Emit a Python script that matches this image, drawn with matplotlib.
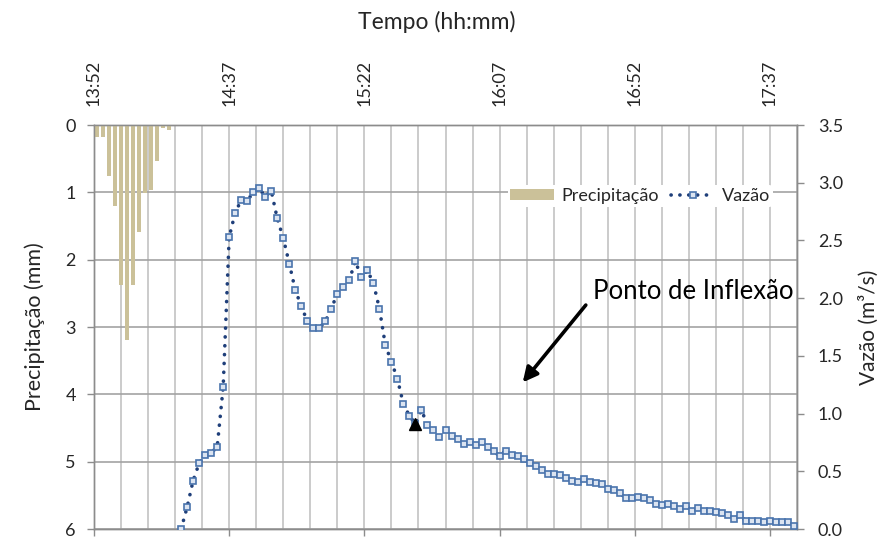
import matplotlib
matplotlib.use("Agg")
import matplotlib.pyplot as plt
from matplotlib.ticker import MultipleLocator, FixedLocator
import numpy as np

plt.rcParams['font.family'] = ['Lato', 'DejaVu Sans']

# ---------------- data ----------------
# time in minutes after 13:52
precip_t = [1, 3, 5, 7, 9, 11, 13, 15, 17, 19, 21, 23, 25]
precip_mm = [0.18, 0.18, 0.75, 1.21, 2.38, 3.20, 2.38, 1.59, 1.01, 0.97, 0.53, 0.05, 0.07]

flow_t = list(range(29, 235, 2))
flow_q = [0.00, 0.19, 0.42, 0.57, 0.64, 0.66, 0.71, 1.23, 2.53, 2.74,
          2.85, 2.84, 2.92, 2.95, 2.88, 2.93, 2.69, 2.52, 2.30, 2.07,
          1.93, 1.80, 1.74, 1.74, 1.80, 1.91, 2.04, 2.10, 2.16, 2.32,
          2.18, 2.24, 2.13, 1.91, 1.59, 1.45, 1.30, 1.08, 0.98, 0.91,
          1.03, 0.90, 0.86, 0.80, 0.86, 0.81, 0.78, 0.74, 0.75, 0.73,
          0.75, 0.71, 0.68, 0.63, 0.68, 0.64, 0.63, 0.61, 0.57, 0.55,
          0.51, 0.48, 0.48, 0.47, 0.44, 0.42, 0.41, 0.43, 0.41, 0.40,
          0.39, 0.35, 0.34, 0.31, 0.27, 0.27, 0.28, 0.27, 0.25, 0.22,
          0.21, 0.22, 0.20, 0.17, 0.20, 0.16, 0.18, 0.16, 0.16, 0.15,
          0.14, 0.12, 0.09, 0.12, 0.07, 0.07, 0.07, 0.06, 0.07, 0.06,
          0.06, 0.06, 0.03]
inflection_t = 107

tick_minutes = [0, 45, 90, 135, 180, 225]
tick_labels = ['13:52', '14:37', '15:22', '16:07', '16:52', '17:37']

# ---------------- figure ----------------
fig = plt.figure(figsize=(8.8, 5.38), dpi=100)
ax = fig.add_axes([94/880, 1-529/538, (797-94)/880, (529-125)/538])
ax2 = ax.twinx()

hgrid = '#a3a3a3'
vgrid = '#cbcbcb'
spine_c = '#8c8c8c'
txt_c = '#262626'

# bars (precipitation) on left axis, inverted
ax.bar(precip_t, precip_mm, width=1.35, color='#cbc199', zorder=3,
       label='Precipitação')
ax.set_ylim(6, 0)
ax.set_xlim(0, 234)
ax.yaxis.set_major_locator(MultipleLocator(1))
ax.xaxis.set_major_locator(FixedLocator(tick_minutes))
ax.xaxis.set_minor_locator(MultipleLocator(9))
ax.set_xticklabels(tick_labels, rotation=90)

ax.grid(axis='y', which='major', color=hgrid, lw=1.2, zorder=0)
ax.grid(axis='x', which='minor', color=vgrid, lw=1.4, zorder=0)
ax.grid(axis='x', which='major', color=vgrid, lw=1.4, zorder=0)
ax.set_axisbelow(True)

ax.tick_params(axis='x', which='major', bottom=True, top=False,
               labelbottom=False, labeltop=True, direction='out',
               length=5, width=1, color=spine_c, labelsize=13, pad=9,
               labelcolor=txt_c)
ax.tick_params(axis='x', which='minor', bottom=False, top=False)
ax.tick_params(axis='y', direction='out', length=5, width=1, color=spine_c,
               labelsize=13, pad=8, labelcolor=txt_c)
for s in ax.spines.values():
    s.set_color(spine_c)
    s.set_linewidth(1.0)

# flow on right axis
ax2.plot(flow_t, flow_q, color='#1f3f7a', lw=2.6, linestyle=(0, (0.05, 2.4)),
         dash_capstyle='round', marker='s', markersize=4.4,
         markerfacecolor='#dbe4f1', markeredgecolor='#4a74ad',
         markeredgewidth=1.2, zorder=4, label='Vazão')
q_inf = flow_q[flow_t.index(inflection_t)]
ax2.plot([inflection_t], [q_inf], marker='^', color='black', markersize=8,
         linestyle='none', zorder=5)
ax2.set_ylim(0, 3.5)
ax2.set_yticks(np.arange(0, 3.51, 0.5))
ax2.set_yticklabels([f'{v:.1f}' for v in np.arange(0, 3.51, 0.5)])
ax2.tick_params(axis='y', direction='out', length=5, width=1, color=spine_c,
                labelsize=13, pad=10, labelcolor=txt_c)
for s in ax2.spines.values():
    s.set_color(spine_c)
    s.set_linewidth(1.0)

# axis titles
fig.text(0.496, 0.960, 'Tempo (hh:mm)', ha='center', va='center',
         fontsize=16.5, color=txt_c)
ax.set_ylabel('Precipitação (mm)', fontsize=15.5, labelpad=15, color=txt_c)
ax2.set_ylabel('Vazão (m³/s)', fontsize=15, labelpad=11, color=txt_c)

# annotation
ax2.annotate('', xy=(142.7, 1.27), xytext=(163.7, 1.94),
             arrowprops=dict(arrowstyle='-|>', lw=2.6, color='black',
                             mutation_scale=22, shrinkA=0, shrinkB=0),
             zorder=6)
ax2.text(166, 2.06, 'Ponto de Inflexão', ha='left', va='center',
         fontsize=18.5, color='black', zorder=6)

# legend
h1, l1 = ax.get_legend_handles_labels()
h2, l2 = ax2.get_legend_handles_labels()
leg = ax2.legend(h1 + h2, l1 + l2, loc='center', bbox_to_anchor=(0.777, 0.824),
                 ncol=2, frameon=True, fontsize=13, handlelength=2.4,
                 handletextpad=0.4, columnspacing=0.7, borderpad=0.15,
                 handleheight=0.6)
leg.get_frame().set_facecolor('white')
leg.get_frame().set_edgecolor('none')
leg.get_frame().set_alpha(1)
for t in leg.get_texts():
    t.set_color(txt_c)

fig.savefig('out.png', dpi=100)
